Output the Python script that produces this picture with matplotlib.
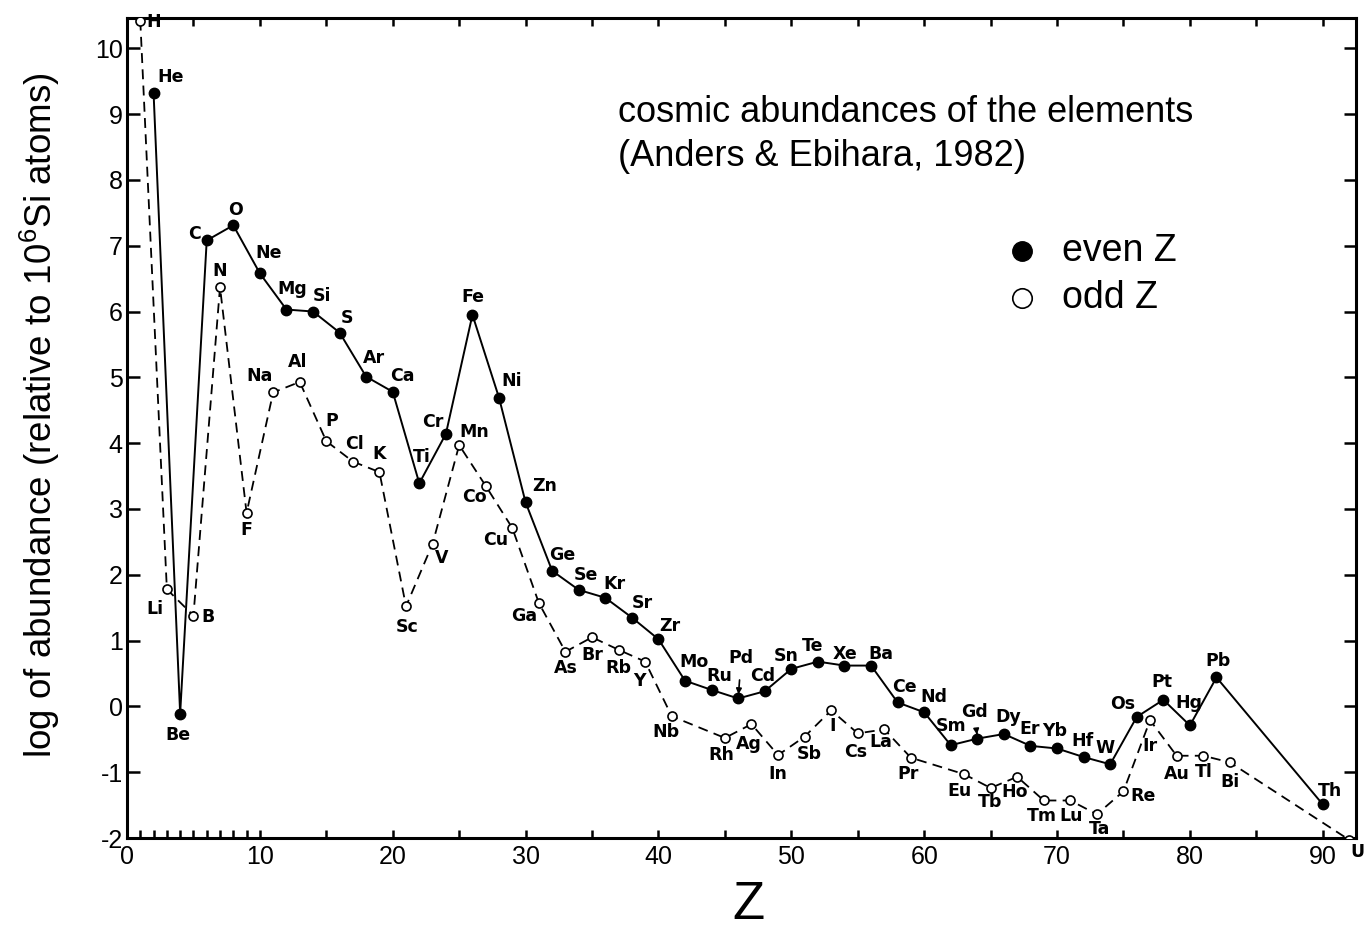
import numpy as np
import matplotlib
matplotlib.use("Agg")
import matplotlib.pyplot as plt
from matplotlib.ticker import MultipleLocator, FuncFormatter

plt.rcParams['font.family'] = ['Liberation Sans', 'DejaVu Sans']
plt.rcParams['mathtext.default'] = 'regular'
plt.rcParams['axes.unicode_minus'] = False

# even Z elements (filled circles, solid line)
even_el = ['He', 'Be', 'C', 'O', 'Ne', 'Mg', 'Si', 'S', 'Ar', 'Ca', 'Ti', 'Cr', 'Fe', 'Ni',
           'Zn', 'Ge', 'Se', 'Kr', 'Sr', 'Zr', 'Mo', 'Ru', 'Pd', 'Cd', 'Sn', 'Te', 'Xe',
           'Ba', 'Ce', 'Nd', 'Sm', 'Gd', 'Dy', 'Er', 'Yb', 'Hf', 'W', 'Os', 'Pt', 'Hg',
           'Pb', 'Th']
even_z = [2, 4, 6, 8, 10, 12, 14, 16, 18, 20, 22, 24, 26, 28, 30, 32, 34, 36, 38, 40, 42,
          44, 46, 48, 50, 52, 54, 56, 58, 60, 62, 64, 66, 68, 70, 72, 74, 76, 78, 80, 82, 90]
even_ab = [9.32, -0.11, 7.08, 7.31, 6.58, 6.03, 6.00, 5.68, 5.01, 4.78, 3.39, 4.14, 5.95,
           4.69, 3.10, 2.06, 1.77, 1.65, 1.35, 1.02, 0.39, 0.25, 0.12, 0.23, 0.57, 0.68,
           0.62, 0.62, 0.06, -0.09, -0.59, -0.49, -0.42, -0.60, -0.64, -0.77, -0.88,
           -0.16, 0.10, -0.29, 0.44, -1.49]

# odd Z elements (open circles, dashed line)
odd_el = ['H', 'Li', 'B', 'N', 'F', 'Na', 'Al', 'P', 'Cl', 'K', 'Sc', 'V', 'Mn', 'Co',
          'Cu', 'Ga', 'As', 'Br', 'Rb', 'Y', 'Nb', 'Rh', 'Ag', 'In', 'Sb', 'I', 'Cs', 'La',
          'Pr', 'Eu', 'Tb', 'Ho', 'Tm', 'Lu', 'Ta', 'Re', 'Ir', 'Au', 'Tl', 'Bi', 'U']
odd_z = [1, 3, 5, 7, 9, 11, 13, 15, 17, 19, 21, 23, 25, 27, 29, 31, 33, 35, 37, 39, 41,
         45, 47, 49, 51, 53, 55, 57, 59, 63, 65, 67, 69, 71, 73, 75, 77, 79, 81, 83, 92]
odd_ab = [10.42, 1.78, 1.38, 6.37, 2.94, 4.77, 4.93, 4.03, 3.72, 3.56, 1.52, 2.47, 3.97,
          3.35, 2.71, 1.57, 0.83, 1.05, 0.86, 0.68, -0.15, -0.48, -0.27, -0.74, -0.46,
          -0.06, -0.41, -0.35, -0.78, -1.03, -1.24, -1.07, -1.43, -1.43, -1.64, -1.29,
          -0.21, -0.75, -0.75, -0.85, -2.03]

# label offsets in pixels (dx, dy up)
offs = {
    'H': (13, -1), 'He': (17, 16), 'Li': (-12, -20), 'Be': (-2, -21), 'B': (15, -1),
    'C': (-12, 6), 'N': (0, 16), 'O': (2, 15), 'F': (0, -17), 'Ne': (9, 20),
    'Na': (-14, 16), 'Mg': (6, 21), 'Al': (-2, 20), 'Si': (9, 16), 'P': (5, 20),
    'S': (7, 15), 'Cl': (2, 18), 'Ar': (8, 19), 'K': (0, 18), 'Ca': (10, 16),
    'Sc': (1, -21), 'Ti': (3, 26), 'V': (9, -14), 'Cr': (-13, 12), 'Mn': (15, 13),
    'Fe': (0, 18), 'Co': (-11, -11), 'Ni': (13, 17), 'Cu': (-17, -12), 'Zn': (19, 16),
    'Ga': (-15, -13), 'Ge': (10, 16), 'As': (0, -16), 'Se': (7, 15), 'Br': (0, -18),
    'Kr': (9, 14), 'Rb': (0, -18), 'Sr': (10, 15), 'Y': (-6, -19), 'Zr': (11, 13),
    'Nb': (-6, -16), 'Mo': (9, 19), 'Rh': (-4, -17), 'Ru': (8, 14), 'Ag': (-3, -20),
    'Cd': (-2, 15), 'In': (0, -19), 'Sn': (-5, 13), 'Sb': (5, -17), 'Te': (-5, 16),
    'I': (1, -16), 'Cs': (-2, -19), 'Xe': (1, 12), 'La': (-4, -13), 'Ba': (10, 12),
    'Pr': (-3, -16), 'Ce': (7, 15), 'Nd': (10, 15), 'Eu': (-5, -17), 'Sm': (0, 19),
    'Tb': (-1, -14), 'Dy': (4, 17), 'Ho': (-3, -15), 'Er': (-1, 17), 'Tm': (-2, -16),
    'Yb': (-2, 17), 'Lu': (1, -16), 'Hf': (-1, 16), 'Ta': (3, -15), 'W': (-5, 16),
    'Re': (20, -5), 'Os': (-14, 13), 'Ir': (0, -26), 'Pt': (-1, 18), 'Au': (0, -18),
    'Hg': (-1, 22), 'Tl': (1, -16), 'Pb': (2, 16), 'Bi': (0, -20), 'Th': (7, 13),
    'U': (8, -12),
}
arrow_labels = {'Pd': (3, 40), 'Gd': (-3, 27)}

fig = plt.figure(figsize=(13.64, 9.31), dpi=100)
ax = fig.add_axes([127 / 1364, 1 - 838 / 931, (1356 - 127) / 1364, (838 - 18) / 931])

ax.plot(odd_z, odd_ab, color='black', lw=1.3, ls=(0, (5.5, 3.5)), marker='o', ms=6.5,
        mfc='white', mec='black', mew=1.2, zorder=3)
ax.plot(even_z, even_ab, color='black', lw=1.4, marker='o', ms=7.5, mfc='black',
        mec='black', zorder=4)

lab_font = dict(family=['Liberation Sans Narrow', 'DejaVu Sans'], fontweight='bold',
                fontsize=12.5)
for els, zs, abs_ in [(even_el, even_z, even_ab), (odd_el, odd_z, odd_ab)]:
    for el, z, a in zip(els, zs, abs_):
        if el in arrow_labels:
            dx, dy = arrow_labels[el]
            ax.annotate(el, xy=(z, a), xytext=(dx, dy), textcoords='offset pixels',
                        ha='center', va='center', clip_on=False, **lab_font,
                        arrowprops=dict(arrowstyle='-|>', color='black', lw=1.2,
                                        shrinkA=7, shrinkB=3, mutation_scale=8))
        else:
            dx, dy = offs[el]
            ax.annotate(el, xy=(z, a), xytext=(dx, dy), textcoords='offset pixels',
                        ha='center', va='center', annotation_clip=False, **lab_font)

ax.set_xlim(0, 92.5)
ax.set_ylim(-2, 10.46)

ax.xaxis.set_major_locator(MultipleLocator(5))
ax.xaxis.set_major_formatter(FuncFormatter(lambda v, p: '%d' % v if v % 10 == 0 else ''))
ax.set_xticks(range(1, 10), minor=True)
ax.yaxis.set_major_locator(MultipleLocator(1))

for s in ax.spines.values():
    s.set_linewidth(2.2)

ax.tick_params(axis='x', which='major', direction='in', top=True, length=6, width=1.8,
               labelsize=18, pad=5)
ax.tick_params(axis='x', which='minor', direction='in', top=False, length=6, width=1.8)
ax.tick_params(axis='y', which='major', direction='in', right=True, length=9, width=1.8,
               labelsize=18, pad=3)

fig.text(618 / 1364, 1 - 113 / 931, 'cosmic abundances of the elements', fontsize=26,
         ha='left', va='center')
fig.text(618 / 1364, 1 - 157 / 931, '(Anders & Ebihara, 1982)', fontsize=26,
         ha='left', va='center')

# legend drawn by hand
ax.plot([1022 / 1364], [1 - 251 / 931], marker='o', ms=14, mfc='black', mec='black',
        transform=fig.transFigure, clip_on=False)
ax.plot([1022 / 1364], [1 - 298 / 931], marker='o', ms=14, mfc='white', mec='black',
        mew=1.2, transform=fig.transFigure, clip_on=False)
fig.text(1062 / 1364, 1 - 251 / 931, 'even Z', fontsize=27, ha='left', va='center')
fig.text(1062 / 1364, 1 - 298 / 931, 'odd Z', fontsize=27, ha='left', va='center')

fig.text(40 / 1364, 1 - 415 / 931, 'log of abundance (relative to 10$^6$Si atoms)',
         fontsize=26.5, rotation=90, ha='center', va='center')
fig.text(748 / 1364, 1 - 905 / 931, 'Z', fontsize=38, ha='center', va='center')

fig.savefig('out.png', dpi=100)
